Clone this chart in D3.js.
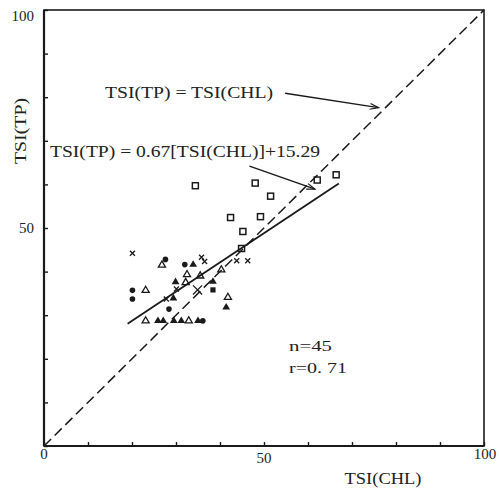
<!DOCTYPE html>
<html>
<head>
<meta charset="utf-8">
<script src="https://cdn.jsdelivr.net/npm/d3@7"></script>
<style>
  html, body { margin: 0; padding: 0; background: #fff; }
  svg { display: block; }
  text { font-family: "Liberation Serif", "DejaVu Serif", serif; fill: #222; }
</style>
</head>
<body>
<svg id="chart" width="499" height="489"></svg>
<script>
// TSI(TP) vs TSI(CHL), one array per marker style: [TSI(CHL), TSI(TP)]
const openSquares = [
  [34.4, 59.7], [48.0, 60.3], [51.5, 57.3], [42.4, 52.4], [49.2, 52.6],
  [45.2, 49.2], [44.9, 45.3], [62.1, 61.0], [66.4, 62.2]
];
const crosses = [
  [20.1, 44.2], [35.8, 43.3], [36.5, 42.3], [30.1, 36.0], [27.8, 33.7],
  [43.8, 42.5], [46.3, 42.5]
];
const bigCrosses = [[34.9, 35.8]];
const filledCircles = [
  [27.6, 42.8], [32.0, 41.6], [20.1, 35.7], [20.1, 33.7], [28.4, 31.4], [36.1, 28.7]
];
const filledSquares = [[38.4, 35.8]];
const filledTriangles = [
  [33.9, 41.6], [29.9, 37.6], [38.4, 37.7], [29.4, 33.9], [41.4, 31.8],
  [25.9, 28.7], [27.1, 28.7], [29.5, 28.7], [31.2, 28.7], [35.0, 28.7]
];
const openTriangles = [
  [26.8, 41.5], [32.5, 39.3], [35.5, 39.0], [40.3, 40.4], [32.2, 37.5],
  [23.1, 35.7], [41.8, 34.1], [23.1, 28.7], [32.9, 28.7]
];

// Regression: TSI(TP) = 0.67[TSI(CHL)] + 15.29, drawn over the data range
const slope = 0.67, intercept = 15.29;
const fitRange = [19, 67];

const xTicks = [0, 10, 20, 30, 40, 50, 60, 70, 80, 90, 100];
const yTicks = [0, 10, 20, 30, 40, 50, 60, 70, 80, 90, 100];
const tickLabels = [0, 50, 100];

const svg = d3.select("#chart");
const x = d3.scaleLinear().domain([0, 100]).range([44, 484]);
const y = d3.scaleLinear().domain([0, 100]).range([446, 10]);
const ink = "#1a1a1a";

// Frame
svg.append("rect")
  .attr("x", x(0)).attr("y", y(100))
  .attr("width", x(100) - x(0)).attr("height", y(0) - y(100))
  .attr("fill", "none").attr("stroke", ink).attr("stroke-width", 1.6);
svg.append("line").attr("x1", x(0)).attr("x2", x(0)).attr("y1", y(0)).attr("y2", y(100))
  .attr("stroke", ink).attr("stroke-width", 2.2);
svg.append("line").attr("x1", x(0)).attr("x2", x(100)).attr("y1", y(0)).attr("y2", y(0))
  .attr("stroke", ink).attr("stroke-width", 2.2);

// Inward ticks, labels at 0 / 50 / 100
const xAxis = d3.axisBottom(x).tickValues(xTicks).tickSizeInner(-4).tickSizeOuter(0)
  .tickFormat(d => "");
const yAxis = d3.axisLeft(y).tickValues(yTicks).tickSizeInner(-4).tickSizeOuter(0)
  .tickFormat(d => "");
const gx = svg.append("g").attr("transform", `translate(0,${y(0)})`).call(xAxis);
const gy = svg.append("g").attr("transform", `translate(${x(0)},0)`).call(yAxis);
[gx, gy].forEach(g => {
  g.select(".domain").remove();
  g.selectAll(".tick line").attr("stroke", ink).attr("stroke-width", 1.4);
});

svg.append("g").selectAll("text").data(tickLabels).join("text")
  .attr("x", d => x(d) + (d === 100 ? 1 : 0))
  .attr("y", d => d === 50 ? y(0) + 17 : y(0) + 13)
  .attr("text-anchor", "middle").attr("font-size", 15)
  .text(d => d);
svg.append("g").selectAll("text").data(tickLabels.filter(d => d > 0)).join("text")
  .attr("x", x(0) - 10)
  .attr("y", d => y(d) + (d === 100 ? 11 : 5))
  .attr("text-anchor", "end").attr("font-size", 15)
  .text(d => d);

// Axis titles
svg.append("text").attr("x", 383).attr("y", 484).attr("text-anchor", "middle")
  .attr("font-size", 16).attr("textLength", 77).attr("lengthAdjust", "spacingAndGlyphs")
  .text("TSI(CHL)");
svg.append("text").attr("transform", "translate(26,131) rotate(-90)")
  .attr("text-anchor", "middle").attr("font-size", 16)
  .attr("textLength", 66).attr("lengthAdjust", "spacingAndGlyphs")
  .text("TSI(TP)");

// 1:1 line
svg.append("line")
  .attr("x1", x(0)).attr("y1", y(0)).attr("x2", x(100)).attr("y2", y(100))
  .attr("stroke", ink).attr("stroke-width", 1.5).attr("stroke-dasharray", "10,5");

// Regression line
svg.append("line")
  .attr("x1", x(fitRange[0])).attr("y1", y(slope * fitRange[0] + intercept))
  .attr("x2", x(fitRange[1])).attr("y2", y(slope * fitRange[1] + intercept))
  .attr("stroke", ink).attr("stroke-width", 1.8);

// Markers
const g = svg.append("g").attr("stroke", ink).attr("fill", ink);
g.selectAll(".osq").data(openSquares).join("rect")
  .attr("x", d => x(d[0]) - 3).attr("y", d => y(d[1]) - 3)
  .attr("width", 6).attr("height", 6).attr("fill", "none").attr("stroke-width", 1.5);
g.selectAll(".fsq").data(filledSquares).join("rect")
  .attr("x", d => x(d[0]) - 2.6).attr("y", d => y(d[1]) - 2.6)
  .attr("width", 5.2).attr("height", 5.2).attr("stroke", "none");
g.selectAll(".fc").data(filledCircles).join("circle")
  .attr("cx", d => x(d[0])).attr("cy", d => y(d[1])).attr("r", 2.8).attr("stroke", "none");
const tri = d3.symbol().type(d3.symbolTriangle).size(26);
g.selectAll(".ft").data(filledTriangles).join("path")
  .attr("d", tri).attr("transform", d => `translate(${x(d[0])},${y(d[1])})`)
  .attr("stroke", "none");
g.selectAll(".ot").data(openTriangles).join("path")
  .attr("d", d3.symbol().type(d3.symbolTriangle).size(22))
  .attr("transform", d => `translate(${x(d[0])},${y(d[1])})`)
  .attr("fill", "none").attr("stroke-width", 1.3);
g.selectAll(".cx").data(crosses).join("path")
  .attr("d", d3.symbol().type(d3.symbolX).size(18))
  .attr("transform", d => `translate(${x(d[0])},${y(d[1])})`)
  .attr("fill", "none").attr("stroke-width", 1.3);
g.selectAll(".bx").data(bigCrosses).join("path")
  .attr("d", d3.symbol().type(d3.symbolX).size(55))
  .attr("transform", d => `translate(${x(d[0])},${y(d[1])})`)
  .attr("fill", "none").attr("stroke-width", 1.3);

// Annotations with leader arrows
svg.append("defs").append("marker")
  .attr("id", "arrow").attr("viewBox", "0 0 10 10").attr("refX", 10).attr("refY", 5)
  .attr("markerWidth", 8).attr("markerHeight", 6).attr("orient", "auto")
  .append("path").attr("d", "M0,1.5 L10,5 L0,8.5").attr("fill", "none")
  .attr("stroke", ink).attr("stroke-width", 1.4);

svg.append("text").attr("x", 105).attr("y", 98).attr("font-size", 16)
  .attr("textLength", 168).attr("lengthAdjust", "spacingAndGlyphs")
  .text("TSI(TP) = TSI(CHL)");
svg.append("line")
  .attr("x1", x(54.8)).attr("y1", y(80.9)).attr("x2", x(76.0)).attr("y2", y(77.6))
  .attr("stroke", ink).attr("stroke-width", 1.4).attr("marker-end", "url(#arrow)");

svg.append("text").attr("x", 50).attr("y", 157).attr("font-size", 16)
  .attr("textLength", 270).attr("lengthAdjust", "spacingAndGlyphs")
  .text("TSI(TP) = 0.67[TSI(CHL)]+15.29");
svg.append("line")
  .attr("x1", x(46.7)).attr("y1", y(64.2)).attr("x2", x(61.6)).attr("y2", y(58.9))
  .attr("stroke", ink).attr("stroke-width", 1.4).attr("marker-end", "url(#arrow)");

// Statistics
svg.append("text").attr("x", 289).attr("y", 351).attr("font-size", 15)
  .attr("textLength", 43).attr("lengthAdjust", "spacingAndGlyphs").text("n=45");
svg.append("text").attr("x", 289).attr("y", 373).attr("font-size", 15)
  .attr("textLength", 58).attr("lengthAdjust", "spacingAndGlyphs").text("r=0. 71");
</script>
</body>
</html>
